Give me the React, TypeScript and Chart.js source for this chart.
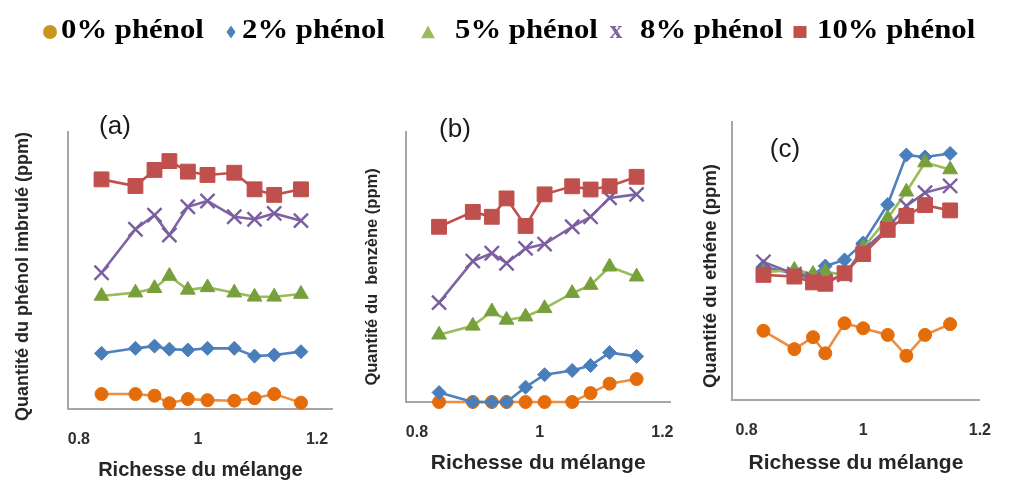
import React, { useEffect, useRef } from 'react';
import { Chart, registerables } from 'chart.js';

Chart.register(...registerables);

// ---------------- Data ----------------
const seriesNames = ['0% phénol', '2% phénol', '5% phénol', '8% phénol', '10% phénol'];
const xTickValues = [0.8, 1, 1.2];
const xAxisTitle = 'Richesse du mélange';
const panelLetters = ['(a)', '(b)', '(c)'];
const yAxisTitles = ['Quantité du phénol imbrulé (ppm)', 'Quantité du  benzène (ppm)', 'Quantité du ethéne (ppm)'];

// (a) phénol imbrulé
const richesseA = [0.838, 0.895, 0.927, 0.952, 0.983, 1.016, 1.061, 1.095, 1.128, 1.173];
const phenolA0 = [5.4, 5.4, 4.8, 2.1, 3.6, 3.2, 3.0, 3.9, 5.4, 2.3];
const phenolA2 = [20.1, 21.9, 22.7, 21.6, 21.3, 21.9, 21.9, 19.1, 19.5, 20.7];
const phenolA5 = [40.8, 42.0, 43.6, 48.0, 43.0, 43.9, 42.0, 40.5, 40.5, 41.5];
const phenolA8 = [49.2, 64.9, 70.0, 62.8, 73.0, 75.1, 69.4, 68.5, 70.6, 68.0];
const phenolA10 = [82.9, 80.5, 86.3, 89.5, 85.7, 84.5, 85.3, 79.3, 77.3, 79.3];

// (b) benzène
const richesseB = [0.836, 0.891, 0.922, 0.946, 0.977, 1.008, 1.053, 1.083, 1.114, 1.158];
const benzeneB0 = [0, 0, 0, 0, 0, 0, 0, 3.3, 6.8, 8.5];
const benzeneB2 = [3.5, 0, 0, 0, 5.5, 10.1, 11.7, 13.5, 18.3, 16.9];
const benzeneB5 = [24.9, 28.2, 33.5, 30.4, 31.6, 34.7, 40.3, 43.3, 50.1, 46.4];
const benzeneB8 = [36.8, 52.2, 55.1, 51.4, 56.9, 58.5, 64.9, 68.6, 75.6, 76.9];
const benzeneB10 = [64.9, 70.4, 68.6, 75.4, 65.2, 76.9, 79.9, 78.7, 79.9, 83.4];

// (c) ethène
const richesseC = [0.829, 0.882, 0.914, 0.935, 0.968, 1.0, 1.042, 1.074, 1.106, 1.149];
const etheneC0 = [24.9, 18.3, 22.6, 16.8, 27.6, 25.8, 23.4, 15.9, 23.4, 27.3];
const etheneC2 = [48.0, 45.3, 45.0, 48.2, 50.4, 56.5, 70.3, 88.1, 87.4, 88.7];
const etheneC5 = [46.0, 46.8, 45.3, 46.1, 45.0, 54.7, 65.4, 74.9, 85.4, 82.9];
const etheneC8 = [49.7, 45.3, 43.5, 42.8, 45.0, 53.8, 61.8, 69.8, 74.6, 77.0];
const etheneC10 = [45.0, 44.4, 42.3, 41.8, 45.6, 52.5, 61.2, 66.2, 70.1, 68.2];

// ---------------- Styles ----------------
const SANS = '"Liberation Sans", Arial, Helvetica, sans-serif';
const SERIF = '"Liberation Serif", "Times New Roman", serif';
const AXIS_COLOR = '#A6A6A6';
const TEXT_COLOR = '#262626';

const seriesStyles = [
  { pointStyle: 'circle', radius: 6.5, point: '#E46C0A', line: '#EE8D40', legend: '#C8961E' },
  { pointStyle: 'rectRot', radius: 7, point: '#4A7EBB', line: '#4F81BD', legend: '#4F81BD' },
  { pointStyle: 'triangle', radius: 8.5, point: '#77A03C', line: '#9BBB59', legend: '#9BBB59' },
  { pointStyle: 'crossRot', radius: 10, point: '#7A5EA0', line: '#8064A2', legend: '#8064A2' },
  { pointStyle: 'rect', radius: 10.5, point: '#C0504D', line: '#C0504D', legend: '#C0504D' },
];

const panelData = [
  { x: richesseA, series: [phenolA0, phenolA2, phenolA5, phenolA8, phenolA10] },
  { x: richesseB, series: [benzeneB0, benzeneB2, benzeneB5, benzeneB8, benzeneB10] },
  { x: richesseC, series: [etheneC0, etheneC2, etheneC5, etheneC8, etheneC10] },
];

// Layout of each panel (canvas placement and axis geometry)
const panelLayouts = [
  { left: 0, width: 350, top: 132, right: 14, yAxisW: 68, xAxisH: 74, xMin: 0.7817, xMax: 1.2266,
    yTitleSize: 18, yTitlePad: 12, yTitleShift: 6, xTitleSize: 20, xTitlePad: 1, letter: { dx: 47, dy: -5 } },
  { left: 350, width: 345, top: 132, right: 17, yAxisW: 56, xAxisH: 81, xMin: 0.7821, xMax: 1.2131,
    yTitleSize: 16.5, yTitlePad: 13, yTitleShift: 10, xTitleSize: 21, xTitlePad: 7, letter: { dx: 49, dy: -2 } },
  { left: 700, width: 312, top: 122, right: 19, yAxisW: 32, xAxisH: 83, xMin: 0.7751, xMax: 1.2,
    yTitleSize: 18.5, yTitlePad: 0, yTitleShift: 15, xTitleSize: 21, xTitlePad: 7, letter: { dx: 53, dy: 28 } },
];

const HEIGHT = 483;

const panelLetterPlugin = {
  id: 'panelLetter',
  afterDraw(chart: any, _args: any, opts: any) {
    if (!opts || !opts.text) return;
    const { ctx, chartArea } = chart;
    ctx.save();
    ctx.font = `26px ${SANS}`;
    ctx.fillStyle = '#1a1a1a';
    ctx.textAlign = 'center';
    ctx.textBaseline = 'middle';
    ctx.fillText(opts.text, chartArea.left + opts.dx, chartArea.top + opts.dy);
    ctx.restore();
  },
};

function Panel({ index }: { index: number }) {
  const ref = useRef<HTMLCanvasElement | null>(null);
  const L = panelLayouts[index];
  const D = panelData[index];

  useEffect(() => {
    if (!ref.current) return;
    const datasets = D.series.map((values, i) => {
      const s = seriesStyles[i];
      return {
        label: seriesNames[i],
        data: values.map((v, j) => ({ x: D.x[j], y: v })),
        borderColor: s.line,
        backgroundColor: s.point,
        borderWidth: 2.6,
        pointStyle: s.pointStyle,
        pointRadius: s.radius,
        pointBackgroundColor: s.point,
        pointBorderColor: s.point,
        pointBorderWidth: s.pointStyle === 'crossRot' ? 2.4 : 1,
        tension: 0,
        clip: false,
        order: seriesNames.length - i,
      };
    });

    const chart = new Chart(ref.current, {
      type: 'line',
      data: { datasets },
      plugins: [panelLetterPlugin],
      options: {
        responsive: false,
        animation: false,
        events: [],
        layout: { padding: { top: L.top, right: L.right, bottom: 0, left: 0 } },
        plugins: {
          legend: { display: false },
          tooltip: { enabled: false },
          // @ts-ignore
          panelLetter: { text: panelLetters[index], dx: L.letter.dx, dy: L.letter.dy },
        },
        scales: {
          x: {
            type: 'linear',
            min: L.xMin,
            max: L.xMax,
            afterBuildTicks: (scale: any) => {
              scale.ticks = xTickValues.map((v) => ({ value: v }));
            },
            afterFit: (scale: any) => {
              scale.height = L.xAxisH;
            },
            grid: { display: false, drawTicks: false },
            border: { display: true, color: AXIS_COLOR, width: 2 },
            ticks: {
              padding: 21,
              autoSkip: false,
              maxRotation: 0,
              color: '#303030',
              font: { family: SANS, size: 16, weight: 'bold' },
              callback: (v: any) => String(v),
            },
            title: {
              display: true,
              text: xAxisTitle,
              color: TEXT_COLOR,
              font: { family: SANS, size: L.xTitleSize, weight: 'bold' },
              padding: { top: 0, bottom: L.xTitlePad },
            },
          },
          y: {
            type: 'linear',
            min: 0,
            max: 100,
            afterFit: (scale: any) => {
              scale.width = L.yAxisW;
              // move the axis title along the axis, as in the reference
              if (!scale.__shiftPatched) {
                const original = scale.drawTitle.bind(scale);
                scale.drawTitle = function () {
                  const c = scale.ctx;
                  c.save();
                  c.translate(0, L.yTitleShift);
                  original();
                  c.restore();
                };
                scale.__shiftPatched = true;
              }
            },
            grid: { display: false, drawTicks: false },
            border: { display: true, color: AXIS_COLOR, width: 2 },
            ticks: { display: false },
            title: {
              display: true,
              text: yAxisTitles[index],
              color: TEXT_COLOR,
              font: { family: SANS, size: L.yTitleSize, weight: 'bold' },
              padding: { top: L.yTitlePad, bottom: 0 },
            },
          },
        },
      } as any,
    });
    return () => chart.destroy();
  }, []);

  return (
    <canvas
      ref={ref}
      width={L.width}
      height={HEIGHT}
      style={{ position: 'absolute', left: L.left, top: 0, width: L.width, height: HEIGHT }}
    />
  );
}

// Legend layout: marker centre and text start
const legendLayout = [
  { marker: 50, text: 61 },
  { marker: 231, text: 242 },
  { marker: 428, text: 455 },
  { marker: 616, text: 640 },
  { marker: 800, text: 817 },
];

function LegendMarker({ index }: { index: number }) {
  const s = seriesStyles[index];
  const c = s.legend;
  const base: React.CSSProperties = { position: 'absolute', top: 32, transform: 'translate(-50%, -50%)' };
  if (s.pointStyle === 'circle') {
    return <span style={{ ...base, width: 14, height: 14, borderRadius: '50%', background: c }} />;
  }
  if (s.pointStyle === 'rectRot') {
    return (
      <svg style={{ ...base }} width={9} height={13} viewBox="0 0 9 13">
        <polygon points="4.5,0 9,6.5 4.5,13 0,6.5" fill={c} />
      </svg>
    );
  }
  if (s.pointStyle === 'triangle') {
    return (
      <svg style={{ ...base }} width={14} height={13} viewBox="0 0 14 13">
        <polygon points="7,0 14,13 0,13" fill={c} />
      </svg>
    );
  }
  if (s.pointStyle === 'crossRot') {
    return (
      <span
        style={{
          ...base,
          top: 30,
          fontFamily: SERIF,
          fontWeight: 'bold',
          fontSize: 26,
          lineHeight: '26px',
          color: c,
        }}
      >
        x
      </span>
    );
  }
  return <span style={{ ...base, width: 13, height: 12, background: c }} />;
}

function Legend() {
  return (
    <div style={{ position: 'absolute', left: 0, top: 0, width: 1012, height: 60 }}>
      {seriesNames.map((name, i) => (
        <div key={name} style={{ position: 'absolute', left: 0, top: 0 }}>
          <div style={{ position: 'absolute', left: legendLayout[i].marker, top: 0 }}>
            <LegendMarker index={i} />
          </div>
          <span
            style={{
              position: 'absolute',
              left: legendLayout[i].text,
              top: 14,
              whiteSpace: 'nowrap',
              fontFamily: SERIF,
              fontWeight: 'bold',
              fontSize: 27,
              lineHeight: '30px',
              color: '#000',
              display: 'inline-block',
              transform: 'scaleX(1.14)',
              transformOrigin: 'left center',
            }}
          >
            {name}
          </span>
        </div>
      ))}
    </div>
  );
}

export default function App() {
  return (
    <div
      style={{
        position: 'absolute',
        left: 0,
        top: 0,
        width: 1012,
        height: HEIGHT,
        background: '#ffffff',
        overflow: 'hidden',
      }}
    >
      {panelLayouts.map((_, i) => (
        <Panel key={i} index={i} />
      ))}
      <Legend />
    </div>
  );
}
